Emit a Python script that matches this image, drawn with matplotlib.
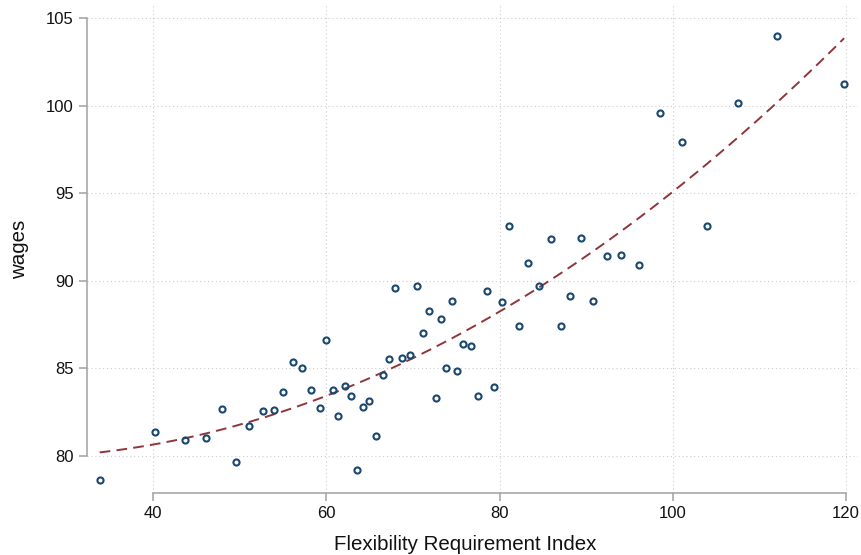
import matplotlib
matplotlib.use("Agg")
import matplotlib.pyplot as plt
import numpy as np

# Data
flex_index = [
    33.8, 40.2, 43.6, 46.1, 47.9, 49.6, 51.1, 52.7, 53.9, 55.0,
    56.1, 57.2, 58.2, 59.2, 60.0, 60.7, 61.3, 62.1, 62.8, 63.5,
    64.2, 64.95, 65.7, 66.5, 67.2, 67.9, 68.7, 69.6, 70.4, 71.2,
    71.9, 73.2, 74.5, 72.6, 73.85, 75.1, 75.8, 76.7, 77.5, 78.5,
    79.4, 80.3, 82.2, 84.6, 87.1, 88.1, 90.8, 81.1, 83.3, 85.9,
    89.4, 92.4, 94.0, 96.1, 98.5, 101.1, 104.0, 107.5, 112.1, 119.8,
]
wages = [
    78.63, 81.35, 80.93, 81.05, 82.66, 79.66, 81.71, 82.55, 82.63, 83.64,
    85.35, 85.00, 83.79, 82.74, 86.60, 83.77, 82.28, 83.98, 83.44, 79.20,
    82.81, 83.16, 81.12, 84.60, 85.54, 89.60, 85.61, 85.75, 89.72, 87.02,
    88.28, 87.80, 88.85, 83.33, 85.04, 84.85, 86.38, 86.28, 83.41, 89.40,
    83.96, 88.79, 87.42, 89.72, 87.44, 89.11, 88.83, 93.15, 91.02, 92.40,
    92.44, 91.42, 91.47, 90.88, 99.58, 97.90, 93.13, 100.15, 103.95, 101.25,
]

x_ticks = [40, 60, 80, 100, 120]
y_ticks = [80, 85, 90, 95, 100, 105]

MARKER_COLOR = "#1a476f"
FIT_COLOR = "#90353b"
AXIS_COLOR = "#a0a0a0"

plt.rcParams["font.family"] = ["Liberation Sans", "DejaVu Sans"]

fig = plt.figure(figsize=(8.61, 5.55), dpi=100)
ax = fig.add_axes([0.1007, 0.1112, 0.8958, 0.8798])

x = np.array(flex_index)
y = np.array(wages)

# quadratic fit, like Stata's qfit
coef = np.polyfit(x, y, 2)
xs = np.linspace(x.min(), x.max(), 200)
ax.plot(xs, np.polyval(coef, xs), color=FIT_COLOR, lw=1.4,
        dashes=(5.5, 3.2), zorder=2)

ax.plot(x, y, "o", ms=4.4, mfc="none", mec=MARKER_COLOR, mew=1.5, zorder=3)

ax.set_xlim(32.3, 121.4)
ax.set_ylim(77.87, 105.74)
ax.set_xticks(x_ticks)
ax.set_yticks(y_ticks)

ax.grid(True, color="#cccccc", linestyle=(0, (1, 2.5)), linewidth=0.8)
ax.set_axisbelow(True)

for side in ("top", "right"):
    ax.spines[side].set_visible(False)
for side in ("left", "bottom"):
    ax.spines[side].set_color(AXIS_COLOR)
    ax.spines[side].set_linewidth(1.1)
ax.spines["left"].set_bounds(80, 105)
ax.spines["bottom"].set_bounds(40, 120)

ax.tick_params(axis="both", colors=AXIS_COLOR, labelcolor="#111111",
               length=6, width=1.1, labelsize=12, pad=3.5)

ax.set_xlabel("Flexibility Requirement Index", fontsize=14.8, color="#111111")
ax.set_ylabel("wages", fontsize=14.8, color="#111111")
ax.xaxis.set_label_coords(0.4906, -0.085)
ax.yaxis.set_label_coords(-0.075, 0.5)

fig.savefig("out.png", dpi=100)
